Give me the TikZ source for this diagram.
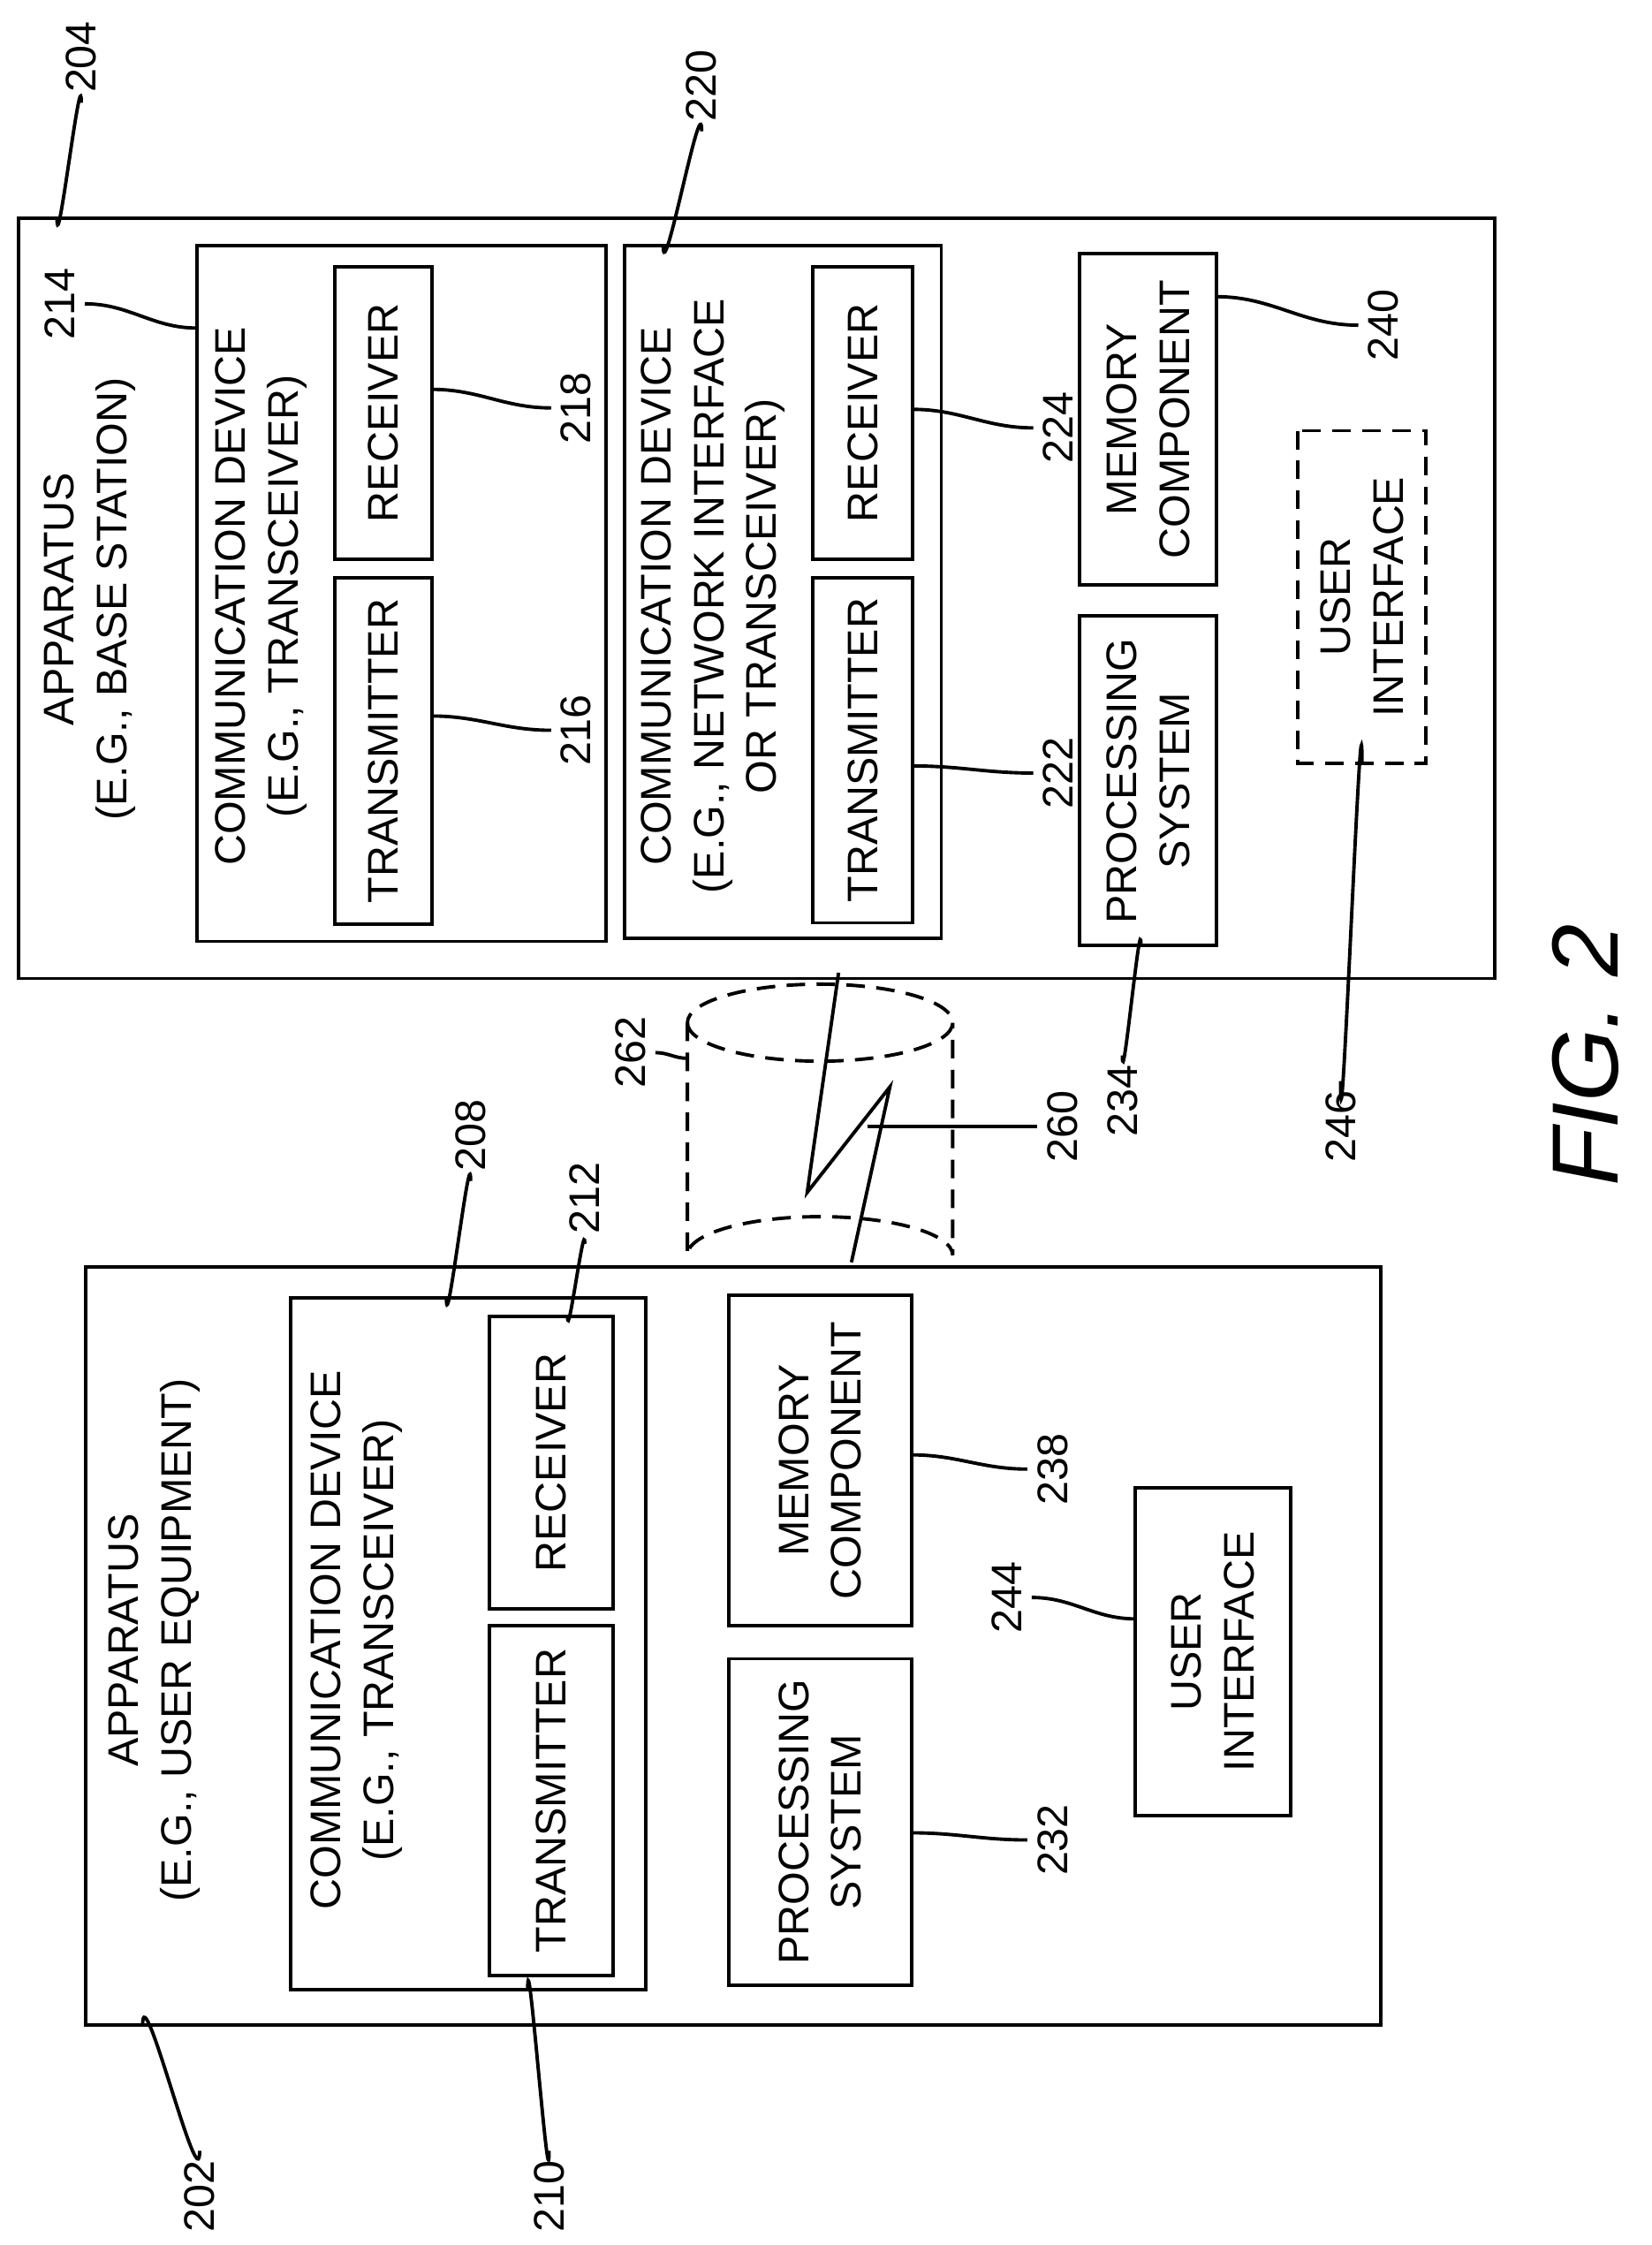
\documentclass[tikz,border=0pt]{standalone}
\usepackage{fontspec}
\setmainfont{Liberation Sans}
\begin{document}
\begin{tikzpicture}[x=1pt,y=-1pt,
  every node/.style={font=\fontsize{30}{37}\selectfont},
  blk/.style={draw, line width=2.4pt, rotate=90, align=center, inner sep=0pt},
  lbl/.style={rotate=90, inner sep=2pt, outer sep=5pt},
  lead/.style={line width=2.4pt},
  dsh/.style={dash pattern=on 13pt off 8pt},
  frame/.style={draw, line width=2.4pt}]
\useasboundingbox (0,0) rectangle (1158,1574);

% base station side
\draw[frame] (13,153) rectangle (1048,686);
\node (ap204) [lbl, align=center] at (63,420) {APPARATUS\\(E.G., BASE STATION)};
\draw[frame] (138,172) rectangle (425,660);
\node (cd214) [lbl, align=center] at (183,418) {COMMUNICATION DEVICE\\(E.G., TRANSCEIVER)};
\node (tx216) [blk, minimum width=243, minimum height=68] at (269,526.5) {TRANSMITTER};
\node (rx218) [blk, minimum width=205, minimum height=68] at (269,289.5) {RECEIVER};
\draw[frame] (438,172) rectangle (660,658);
\node (cd220) [lbl, align=center] at (500,418) {COMMUNICATION DEVICE\\(E.G., NETWORK INTERFACE\\OR TRANSCEIVER)};
\node (tx222) [blk, minimum width=242, minimum height=70] at (605,526) {TRANSMITTER};
\node (rx224) [blk, minimum width=205, minimum height=70] at (605,289.5) {RECEIVER};
\node (mem240) [blk, minimum width=232, minimum height=96] at (805,294) {MEMORY\\COMPONENT};
\node (ps234) [blk, minimum width=231, minimum height=96] at (805,547.5) {PROCESSING\\SYSTEM};
\node (ui246) [blk, dsh, minimum width=233, minimum height=90] at (955,418.5) {USER\\INTERFACE};

% user equipment side
\draw[frame] (60,888) rectangle (968,1420);
\node (ap202) [lbl, align=center] at (108,1150) {APPARATUS\\(E.G., USER EQUIPMENT)};
\draw[frame] (204,910) rectangle (453,1395);
\node (cd208) [lbl, align=center] at (250,1150) {COMMUNICATION DEVICE\\(E.G., TRANSCEIVER)};
\node (tx210) [blk, minimum width=245, minimum height=87] at (386.5,1262.5) {TRANSMITTER};
\node (rx212) [blk, minimum width=205, minimum height=87] at (386.5,1025.5) {RECEIVER};
\node (mem238) [blk, minimum width=232, minimum height=128] at (575,1024) {MEMORY\\COMPONENT};
\node (ps232) [blk, minimum width=229, minimum height=128] at (575,1277.5) {PROCESSING\\SYSTEM};
\node (ui244) [blk, minimum width=230, minimum height=109] at (850.5,1158) {USER\\INTERFACE};

% link
\draw[lead, dsh] (482,717) arc (180:-180:93 and 27);
\draw[lead, dsh] (482,717) -- (482,880) arc (180:360:93 and 27) -- (668,717);
\coordinate (z0) at (588,682);
\coordinate (z1) at (566,836);
\coordinate (z2) at (624,762);
\coordinate (z3) at (597,885);
\draw[lead] (z0) -- (z1) -- (z2) -- (z3);

% reference numerals
\node (n204) [lbl] at (57,40) {204};
\node (n214) [lbl] at (42,213) {214};
\node (n218) [lbl] at (404,286) {218};
\node (n216) [lbl] at (404,512) {216};
\node (n220) [lbl] at (492,60) {220};
\node (n224) [lbl] at (742,300) {224};
\node (n222) [lbl] at (742,542) {222};
\node (n240) [lbl] at (970,228) {240};
\node (n234) [lbl] at (787,772) {234};
\node (n246) [lbl] at (940,790) {246};
\node (n262) [lbl] at (442,738) {262};
\node (n260) [lbl] at (745,790) {260};
\node (n208) [lbl] at (330,796) {208};
\node (n212) [lbl] at (410,840) {212};
\node (n238) [lbl] at (738,1030) {238};
\node (n244) [lbl] at (706,1120) {244};
\node (n232) [lbl] at (738,1290) {232};
\node (n202) [lbl] at (140,1540) {202};
\node (n210) [lbl] at (385,1540) {210};

\coordinate (e204) at (40,153);
\coordinate (e214) at (138,230);
\coordinate (e218) at (303,273);
\coordinate (e216) at (303,502);
\coordinate (e220) at (465,172);
\coordinate (e224) at (640,287);
\coordinate (e222) at (640,537);
\coordinate (e240) at (853,208);
\coordinate (e234) at (800,663);
\coordinate (e246) at (955,535);
\coordinate (e262) at (482,742);
\coordinate (e260) at (608,790);
\coordinate (e208) at (313,910);
\coordinate (e212) at (398,923);
\coordinate (e238) at (639,1020);
\coordinate (e244) at (796,1135);
\coordinate (e232) at (639,1285);
\coordinate (e202) at (100,1420);
\coordinate (e210) at (370,1395);

\draw[lead] (e204) to[out=-90,in=90] (n204.west);
\draw[lead] (e214) to[out=180,in=0] (n214.south);
\draw[lead] (e218) to[out=0,in=180] (n218.north);
\draw[lead] (e216) to[out=0,in=180] (n216.north);
\draw[lead] (e220) to[out=-90,in=90] (n220.west);
\draw[lead] (e224) to[out=0,in=180] (n224.north);
\draw[lead] (e222) to[out=0,in=180] (n222.north);
\draw[lead] (e240) to[out=0,in=180] (n240.north);
\draw[lead] (e234) to[out=90,in=-90] (n234.east);
\draw[lead] (e246) to[out=90,in=-90] (n246.east);
\draw[lead] (e262) to[out=180,in=0] (n262.south);
\draw[lead] (e260) to[out=0,in=180] (n260.north);
\draw[lead] (e208) to[out=-90,in=90] (n208.west);
\draw[lead] (e212) to[out=-90,in=90] (n212.west);
\draw[lead] (e238) to[out=0,in=180] (n238.north);
\draw[lead] (e244) to[out=180,in=0] (n244.south);
\draw[lead] (e232) to[out=0,in=180] (n232.north);
\draw[lead] (e202) to[out=90,in=-90] (n202.east);
\draw[lead] (e210) to[out=90,in=-90] (n210.east);

\node (fig) [lbl, font=\fontsize{66}{70}\itshape] at (1112,740) {FIG. 2};
\end{tikzpicture}
\end{document}
